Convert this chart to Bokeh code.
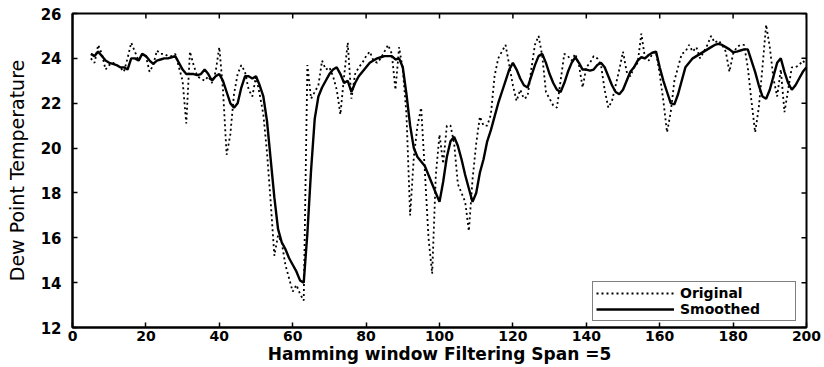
import math

from bokeh.plotting import figure
from bokeh.models import FixedTicker, Legend, LegendItem, ColumnDataSource
from bokeh.embed import file_html
from bokeh.resources import INLINE

# Sample index (x) shared by both series
x_index = list(range(5, 201))

# Raw dew point readings
original = [
    24.0, 23.8, 24.6, 24.2, 23.5, 23.7, 23.8, 23.7, 23.6, 23.4,   # 5-14
    24.0, 24.7, 24.3, 23.9, 24.2, 24.1, 23.4, 23.7, 24.35, 24.2,  # 15-24
    24.2, 24.1, 24.1, 24.2, 23.6, 23.0, 21.1, 24.3, 23.7, 23.2,   # 25-34
    23.1, 23.0, 23.2, 22.9, 23.4, 24.5, 22.6, 19.7, 20.6, 22.4,   # 35-44
    23.3, 23.7, 23.4, 22.6, 22.3, 23.2, 22.4, 21.5, 19.8, 17.6,   # 45-54
    15.2, 16.1, 15.8, 14.8, 14.2, 13.6, 13.9, 13.5, 13.2, 23.7,   # 55-64
    22.2, 22.5, 22.8, 23.9, 23.5, 23.6, 23.2, 22.6, 21.5, 23.2,   # 65-74
    24.7, 22.2, 23.3, 23.6, 23.8, 24.1, 24.3, 23.9, 23.8, 24.0,   # 75-84
    24.3, 24.6, 24.2, 22.6, 24.5, 23.5, 21.5, 17.0, 19.6, 21.0,   # 85-94
    21.8, 19.0, 16.0, 14.4, 18.8, 20.6, 19.3, 21.0, 21.0, 20.2,   # 95-104
    18.4, 18.0, 17.6, 16.3, 18.6, 20.2, 21.4, 21.0, 21.0, 21.5,   # 105-114
    23.2, 24.0, 24.3, 24.6, 23.7, 22.8, 22.1, 22.6, 22.2, 22.3,   # 115-124
    23.5, 24.6, 25.0, 24.1, 22.5, 22.2, 21.9, 21.8, 23.0, 24.2,   # 125-134
    24.1, 23.9, 24.2, 23.7, 22.7, 23.6, 23.8, 24.1, 24.0, 23.7,   # 135-144
    22.6, 21.8, 22.1, 22.8, 23.5, 24.3, 23.4, 23.2, 23.6, 23.8,   # 145-154
    25.1, 24.0, 23.9, 24.2, 24.3, 23.3, 22.1, 20.7, 21.6, 23.0,   # 155-164
    23.6, 24.2, 24.3, 24.6, 24.3, 24.5, 24.0, 24.3, 24.6, 25.0,   # 165-174
    24.7, 24.8, 24.6, 24.3, 23.4, 24.2, 24.5, 24.6, 24.6, 23.6,   # 175-184
    22.1, 20.7, 21.8, 23.6, 25.5, 24.5, 23.1, 22.3, 23.5, 21.6,   # 185-194
    22.6, 23.6, 23.6, 23.7, 23.9, 23.7,                           # 195-200
]

# Hamming-window smoothed readings (span 5)
smoothed = [
    24.2, 24.1, 24.3, 24.1, 23.9, 23.8, 23.75, 23.7, 23.6, 23.6,  # 5-14
    23.5, 24.0, 24.0, 23.9, 24.2, 24.1, 23.9, 23.75, 23.9, 23.95, # 15-24
    24.0, 24.0, 24.05, 24.1, 23.8, 23.5, 23.3, 23.3, 23.3, 23.25, # 25-34
    23.3, 23.5, 23.3, 23.0, 23.2, 23.3, 23.0, 22.5, 22.0, 21.8,   # 35-44
    22.0, 22.7, 23.2, 23.2, 23.1, 23.2, 22.8, 22.3, 21.2, 19.5,   # 45-54
    17.8, 16.4, 15.8, 15.5, 15.1, 14.8, 14.5, 14.1, 14.0, 16.2,   # 55-64
    19.0, 21.3, 22.3, 22.7, 23.0, 23.3, 23.5, 23.6, 23.3, 22.9,   # 65-74
    23.0, 22.5, 22.9, 23.2, 23.4, 23.6, 23.8, 23.9, 24.0, 24.05,  # 75-84
    24.1, 24.1, 24.1, 23.95, 24.0, 23.6, 22.4, 21.0, 20.0, 19.6,  # 85-94
    19.4, 19.2, 18.8, 18.4, 18.0, 17.6, 18.5, 19.6, 20.3, 20.5,   # 95-104
    20.1, 19.5, 18.8, 18.2, 17.6, 18.0, 18.9, 19.5, 20.3, 20.8,   # 105-114
    21.4, 22.0, 22.5, 23.0, 23.5, 23.8, 23.5, 23.1, 22.8, 22.7,   # 115-124
    23.2, 23.7, 24.1, 24.2, 23.8, 23.3, 22.9, 22.6, 22.5, 22.9,   # 125-134
    23.4, 23.8, 24.05, 23.8, 23.5, 23.5, 23.45, 23.5, 23.7, 23.8, # 135-144
    23.6, 23.2, 22.8, 22.5, 22.4, 22.6, 23.0, 23.4, 23.6, 23.9,   # 145-154
    24.05, 24.0, 24.15, 24.25, 24.3, 23.6, 23.0, 22.5, 22.0, 21.95, # 155-164
    22.4, 23.0, 23.6, 23.8, 24.0, 24.1, 24.2, 24.3, 24.4, 24.5,   # 165-174
    24.6, 24.65, 24.6, 24.5, 24.4, 24.27, 24.3, 24.35, 24.4, 24.4, # 175-184
    23.9, 23.4, 22.8, 22.3, 22.2, 22.6, 23.2, 23.8, 24.0, 23.4,   # 185-194
    22.9, 22.6, 22.8, 23.1, 23.4, 23.6,                           # 195-200
]

x_ticks = [0, 20, 40, 60, 80, 100, 120, 140, 160, 180, 200]
y_ticks = [12, 14, 16, 18, 20, 22, 24, 26]

x_title = "Hamming window Filtering Span =5"
y_title = "Dew Point Temperature"
series_names = ["Original", "Smoothed"]

FONT = "DejaVu Sans"
X_MIN, X_MAX, Y_MIN, Y_MAX = 0, 200, 12, 26

p = figure(
    width=824, height=367,
    x_range=(X_MIN, X_MAX), y_range=(Y_MIN, Y_MAX),
    output_backend="svg", toolbar_location=None,
    min_border_left=72, min_border_right=18,
    min_border_top=13, min_border_bottom=40,
    background_fill_color="white", border_fill_color="white",
)
p.grid.visible = False
p.outline_line_color = "black"
p.outline_line_width = 2

src = ColumnDataSource(dict(x=x_index, orig=original, smooth=smoothed))
r_orig = p.line("x", "orig", source=src, line_color="black",
                line_width=1.8, line_dash="2 3")
r_smooth = p.line("x", "smooth", source=src, line_color="black",
                  line_width=2.4)


def style_axis(ax, ticks, size):
    ax.ticker = FixedTicker(ticks=ticks)
    ax.axis_line_color = "black"
    ax.axis_line_width = 2
    ax.major_tick_in = 5
    ax.major_tick_out = 0
    ax.major_tick_line_color = "black"
    ax.major_tick_line_width = 1.5
    ax.minor_tick_line_color = None
    ax.major_label_text_font = FONT
    ax.major_label_text_font_style = "bold"
    ax.major_label_text_font_size = size
    ax.major_label_text_color = "black"


xa = p.xaxis[0]
ya = p.yaxis[0]
style_axis(xa, x_ticks, "14px")
style_axis(ya, y_ticks, "15px")
xa.major_label_standoff = 3
ya.major_label_standoff = 11

xa.axis_label = x_title
xa.axis_label_text_font = FONT
xa.axis_label_text_font_style = "bold"
xa.axis_label_text_font_size = "17px"
xa.axis_label_text_color = "black"
xa.axis_label_standoff = 0

ya.axis_label = y_title
ya.axis_label_text_font = FONT
ya.axis_label_text_font_style = "normal"
ya.axis_label_text_font_size = "19px"
ya.axis_label_text_color = "black"
ya.axis_label_standoff = 10

# Inward ticks along the top and right edges of the box
p.ray(x=x_ticks, y=[Y_MAX] * len(x_ticks), length=5, length_units="screen",
      angle=-math.pi / 2, line_color="black", line_width=1.5)
p.ray(x=[X_MAX] * len(y_ticks), y=y_ticks, length=5, length_units="screen",
      angle=math.pi, line_color="black", line_width=1.5)

legend = Legend(
    items=[LegendItem(label=series_names[0], renderers=[r_orig]),
           LegendItem(label=series_names[1], renderers=[r_smooth])],
    location=(520, 6),
    border_line_color="black", border_line_width=1.5,
    background_fill_color="white", background_fill_alpha=1,
    label_text_font=FONT, label_text_font_style="bold",
    label_text_font_size="14px", label_text_color="black",
    glyph_width=78, glyph_height=14, label_height=14,
    label_width=112, label_standoff=6,
    padding=3, spacing=0, margin=0,
)
p.add_layout(legend)

open("out.html", "w").write(file_html(p, INLINE))
